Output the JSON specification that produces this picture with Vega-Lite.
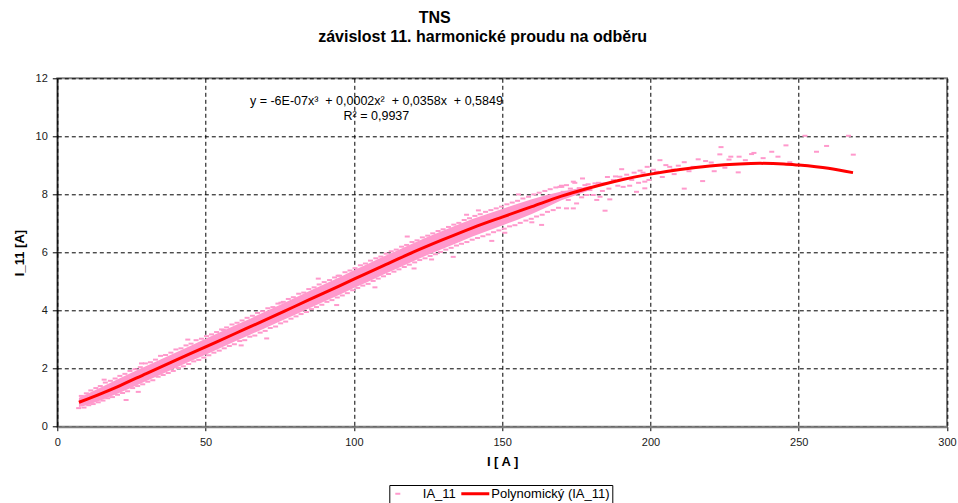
{
  "$schema": "https://vega.github.io/schema/vega-lite/v6.json",
  "width": 889.7,
  "height": 348.4,
  "autosize": {"type": "none"},
  "padding": {"left": 57.3, "top": 78.3, "right": 11, "bottom": 76.3},
  "background": "white",
  "title": {
    "text": "TNS\u2800\u2800\u2800\u2800\u2800\u2800\u2800\u2800",
    "subtitle": "závislost 11. harmonické proudu na odběru",
    "anchor": "middle",
    "frame": "group",
    "dx": -19.5,
    "offset": 27,
    "font": "Liberation Sans",
    "subtitleFont": "Liberation Sans",
    "fontSize": 16,
    "subtitleFontSize": 16,
    "fontWeight": "bold",
    "subtitleFontWeight": "bold",
    "color": "#000",
    "subtitleColor": "#000",
    "subtitlePadding": 3
  },
  "config": {
    "font": "Liberation Sans",
    "view": {"stroke": "#808080", "strokeWidth": 2},
    "axis": {
      "grid": true, "gridColor": "#000", "gridDash": [4, 3], "gridOpacity": 1, "gridWidth": 1,
      "labelFont": "Liberation Sans", "labelFontSize": 11, "labelColor": "#1a1a1a",
      "tickColor": "#000", "titleFont": "Liberation Sans", "titleFontSize": 13,
      "titleFontWeight": "bold", "titleColor": "#000", "labelFlush": false, "labelOverlap": false
    },
    "axisX": {"domainColor": "#808080", "domainWidth": 2, "tickSize": 4, "labelPadding": 6, "titlePadding": 8},
    "axisY": {"domainColor": "#000", "domainWidth": 1, "tickSize": 5, "labelPadding": 5, "titlePadding": 9},
    "legend": {
      "orient": "none", "legendX": 332, "legendY": 406.7, "direction": "horizontal", "columns": 2,
      "strokeColor": "#000", "fillColor": "#fff", "padding": 2,
      "symbolSize": 100, "symbolStrokeWidth": 0, "labelFontSize": 13, "labelFont": "Liberation Sans", "labelColor": "#000",
      "labelOffset": 18.5, "columnPadding": 3.5
    }
  },
  "datasets": {
    "band": [
      {"I": 7.3, "lo": 0.68, "hi": 1.0}, {"I": 10, "lo": 0.74, "hi": 1.13}, {"I": 15, "lo": 0.92, "hi": 1.37},
      {"I": 20, "lo": 1.13, "hi": 1.62}, {"I": 25, "lo": 1.34, "hi": 1.86}, {"I": 30, "lo": 1.57, "hi": 2.09},
      {"I": 35, "lo": 1.8, "hi": 2.32}, {"I": 40, "lo": 2.03, "hi": 2.56}, {"I": 45, "lo": 2.26, "hi": 2.79},
      {"I": 50, "lo": 2.48, "hi": 3.03}, {"I": 55, "lo": 2.71, "hi": 3.26}, {"I": 60, "lo": 2.94, "hi": 3.49},
      {"I": 65, "lo": 3.17, "hi": 3.72}, {"I": 70, "lo": 3.39, "hi": 3.96}, {"I": 75, "lo": 3.62, "hi": 4.19},
      {"I": 80, "lo": 3.85, "hi": 4.43}, {"I": 85, "lo": 4.08, "hi": 4.67}, {"I": 90, "lo": 4.31, "hi": 4.91},
      {"I": 95, "lo": 4.54, "hi": 5.14}, {"I": 100, "lo": 4.78, "hi": 5.39}, {"I": 105, "lo": 5.0, "hi": 5.62},
      {"I": 110, "lo": 5.24, "hi": 5.86}, {"I": 115, "lo": 5.47, "hi": 6.09}, {"I": 120, "lo": 5.7, "hi": 6.32},
      {"I": 125, "lo": 5.92, "hi": 6.54}, {"I": 130, "lo": 6.13, "hi": 6.75}, {"I": 135, "lo": 6.34, "hi": 6.96},
      {"I": 140, "lo": 6.55, "hi": 7.15}, {"I": 145, "lo": 6.74, "hi": 7.33}, {"I": 150, "lo": 6.93, "hi": 7.5},
      {"I": 155, "lo": 7.12, "hi": 7.67}, {"I": 160, "lo": 7.33, "hi": 7.83}, {"I": 165, "lo": 7.56, "hi": 7.98},
      {"I": 170, "lo": 7.8, "hi": 8.1}, {"I": 175, "lo": 7.98, "hi": 8.2}, {"I": 180, "lo": 8.16, "hi": 8.3}
    ],
    "pts": [
      {"I": 7.2, "I11": 0.64}, {"I": 8.1, "I11": 1.06}, {"I": 9.0, "I11": 0.66}, {"I": 9.8, "I11": 1.15},
      {"I": 10.6, "I11": 0.74}, {"I": 11.3, "I11": 1.25}, {"I": 12.1, "I11": 0.78}, {"I": 13.0, "I11": 1.33},
      {"I": 13.8, "I11": 0.84}, {"I": 14.5, "I11": 1.4}, {"I": 15.4, "I11": 0.9}, {"I": 16.2, "I11": 1.52},
      {"I": 17.0, "I11": 0.98}, {"I": 17.9, "I11": 1.58}, {"I": 18.6, "I11": 1.02}, {"I": 19.5, "I11": 1.66},
      {"I": 20.3, "I11": 1.1}, {"I": 21.1, "I11": 1.75}, {"I": 22.0, "I11": 1.16}, {"I": 22.8, "I11": 1.82},
      {"I": 23.7, "I11": 1.22}, {"I": 24.5, "I11": 1.92}, {"I": 25.4, "I11": 1.33}, {"I": 26.2, "I11": 1.98},
      {"I": 27.1, "I11": 1.4}, {"I": 28.0, "I11": 2.05}, {"I": 28.8, "I11": 1.46}, {"I": 29.7, "I11": 2.18},
      {"I": 30.5, "I11": 1.55}, {"I": 31.4, "I11": 2.22}, {"I": 32.2, "I11": 1.6}, {"I": 33.1, "I11": 2.31},
      {"I": 34.0, "I11": 1.72}, {"I": 34.8, "I11": 2.44}, {"I": 35.7, "I11": 1.78}, {"I": 36.5, "I11": 2.47},
      {"I": 37.4, "I11": 1.85}, {"I": 38.3, "I11": 2.55}, {"I": 39.1, "I11": 1.92}, {"I": 40.0, "I11": 2.66},
      {"I": 40.8, "I11": 2.02}, {"I": 41.7, "I11": 2.7}, {"I": 42.5, "I11": 2.08}, {"I": 43.4, "I11": 2.8},
      {"I": 44.3, "I11": 2.16}, {"I": 45.1, "I11": 2.86}, {"I": 46.0, "I11": 2.25}, {"I": 46.8, "I11": 2.98},
      {"I": 47.7, "I11": 2.3}, {"I": 48.6, "I11": 3.03}, {"I": 49.4, "I11": 2.38}, {"I": 50.3, "I11": 3.12},
      {"I": 51.1, "I11": 2.46}, {"I": 52.0, "I11": 3.18}, {"I": 52.8, "I11": 2.55}, {"I": 53.7, "I11": 3.26},
      {"I": 54.6, "I11": 2.62}, {"I": 55.4, "I11": 3.35}, {"I": 56.3, "I11": 2.7}, {"I": 57.1, "I11": 3.42},
      {"I": 58.0, "I11": 2.78}, {"I": 58.9, "I11": 3.52}, {"I": 59.7, "I11": 2.84}, {"I": 60.6, "I11": 3.58},
      {"I": 61.5, "I11": 2.95}, {"I": 62.3, "I11": 3.66}, {"I": 63.2, "I11": 2.98}, {"I": 64.0, "I11": 3.75},
      {"I": 64.9, "I11": 3.1}, {"I": 65.8, "I11": 3.82}, {"I": 66.6, "I11": 3.14}, {"I": 67.5, "I11": 3.92},
      {"I": 68.4, "I11": 3.24}, {"I": 69.2, "I11": 3.98}, {"I": 70.1, "I11": 3.3}, {"I": 71.0, "I11": 4.08},
      {"I": 71.8, "I11": 3.4}, {"I": 72.7, "I11": 4.12}, {"I": 73.6, "I11": 3.45}, {"I": 74.4, "I11": 4.24},
      {"I": 75.3, "I11": 3.56}, {"I": 76.2, "I11": 4.3}, {"I": 77.0, "I11": 3.62}, {"I": 77.9, "I11": 4.4},
      {"I": 78.8, "I11": 3.72}, {"I": 79.6, "I11": 4.46}, {"I": 80.5, "I11": 3.8}, {"I": 81.4, "I11": 4.58},
      {"I": 82.2, "I11": 3.88}, {"I": 83.1, "I11": 4.62}, {"I": 84.0, "I11": 3.95}, {"I": 84.8, "I11": 4.74},
      {"I": 85.7, "I11": 4.05}, {"I": 86.6, "I11": 4.8}, {"I": 87.4, "I11": 4.12}, {"I": 88.3, "I11": 4.9},
      {"I": 89.2, "I11": 4.2}, {"I": 90.0, "I11": 4.98}, {"I": 90.9, "I11": 4.3}, {"I": 91.8, "I11": 5.05},
      {"I": 92.6, "I11": 4.36}, {"I": 93.5, "I11": 5.14}, {"I": 94.4, "I11": 4.45}, {"I": 95.2, "I11": 5.2},
      {"I": 96.1, "I11": 4.52}, {"I": 97.0, "I11": 5.32}, {"I": 97.8, "I11": 4.6}, {"I": 98.7, "I11": 5.38},
      {"I": 99.6, "I11": 4.7}, {"I": 100.4, "I11": 5.46}, {"I": 101.3, "I11": 4.78}, {"I": 102.2, "I11": 5.56},
      {"I": 103.0, "I11": 4.86}, {"I": 103.9, "I11": 5.62}, {"I": 104.8, "I11": 4.92}, {"I": 105.6, "I11": 5.72},
      {"I": 106.5, "I11": 5.02}, {"I": 107.4, "I11": 5.8}, {"I": 108.2, "I11": 5.1}, {"I": 109.1, "I11": 5.86},
      {"I": 110.0, "I11": 5.18}, {"I": 110.9, "I11": 5.96}, {"I": 111.7, "I11": 5.26}, {"I": 112.6, "I11": 6.04},
      {"I": 113.5, "I11": 5.34}, {"I": 114.3, "I11": 6.1}, {"I": 115.2, "I11": 5.42}, {"I": 116.1, "I11": 6.2},
      {"I": 117.0, "I11": 5.5}, {"I": 117.8, "I11": 6.26}, {"I": 118.7, "I11": 5.58}, {"I": 119.6, "I11": 6.36},
      {"I": 120.5, "I11": 5.66}, {"I": 121.3, "I11": 6.42}, {"I": 122.2, "I11": 5.74}, {"I": 123.1, "I11": 6.52},
      {"I": 124.0, "I11": 5.8}, {"I": 124.9, "I11": 6.58}, {"I": 125.7, "I11": 5.88}, {"I": 126.6, "I11": 6.66},
      {"I": 127.5, "I11": 5.94}, {"I": 128.4, "I11": 6.74}, {"I": 129.2, "I11": 6.02}, {"I": 130.1, "I11": 6.8},
      {"I": 131.0, "I11": 6.1}, {"I": 131.9, "I11": 6.88}, {"I": 132.8, "I11": 6.16}, {"I": 133.7, "I11": 6.96},
      {"I": 134.6, "I11": 6.24}, {"I": 135.4, "I11": 7.02}, {"I": 136.3, "I11": 6.3}, {"I": 137.2, "I11": 7.12},
      {"I": 138.1, "I11": 6.36}, {"I": 139.0, "I11": 7.18}, {"I": 139.9, "I11": 6.44}, {"I": 140.8, "I11": 7.26},
      {"I": 141.7, "I11": 6.5}, {"I": 142.6, "I11": 7.32}, {"I": 143.5, "I11": 6.56}, {"I": 144.4, "I11": 7.4},
      {"I": 145.3, "I11": 6.62}, {"I": 146.2, "I11": 7.46}, {"I": 147.1, "I11": 6.7}, {"I": 148.0, "I11": 7.52},
      {"I": 148.9, "I11": 6.76}, {"I": 149.8, "I11": 7.58}, {"I": 150.7, "I11": 6.82}, {"I": 151.6, "I11": 7.66},
      {"I": 152.5, "I11": 6.9}, {"I": 153.4, "I11": 7.72}, {"I": 154.3, "I11": 6.94}, {"I": 155.2, "I11": 7.78},
      {"I": 156.1, "I11": 7.02}, {"I": 157.0, "I11": 7.86}, {"I": 158.0, "I11": 7.1}, {"I": 158.9, "I11": 7.92},
      {"I": 159.8, "I11": 7.16}, {"I": 160.7, "I11": 8.0}, {"I": 161.6, "I11": 7.24}, {"I": 162.5, "I11": 8.06},
      {"I": 163.5, "I11": 7.3}, {"I": 164.4, "I11": 8.12}, {"I": 165.3, "I11": 7.4}, {"I": 166.2, "I11": 8.18},
      {"I": 167.2, "I11": 7.46}, {"I": 168.1, "I11": 8.24}, {"I": 169.0, "I11": 7.54}, {"I": 170.0, "I11": 8.3},
      {"I": 23.2, "I11": 0.92}, {"I": 27.3, "I11": 1.2}, {"I": 28.4, "I11": 2.18}, {"I": 56.0, "I11": 3.33},
      {"I": 70.6, "I11": 3.04}, {"I": 75.4, "I11": 4.27}, {"I": 94.2, "I11": 4.19}, {"I": 94.7, "I11": 5.2},
      {"I": 107.1, "I11": 4.8}, {"I": 126.2, "I11": 5.76}, {"I": 133.5, "I11": 5.85}, {"I": 150.9, "I11": 6.68},
      {"I": 160.0, "I11": 7.04}, {"I": 163.3, "I11": 6.95}, {"I": 169.5, "I11": 8.26}, {"I": 174.5, "I11": 8.4},
      {"I": 15.8, "I11": 1.62}, {"I": 44.0, "I11": 3.0}, {"I": 62.0, "I11": 2.8}, {"I": 88.0, "I11": 5.1},
      {"I": 118.0, "I11": 6.55}, {"I": 138.0, "I11": 7.3}, {"I": 146.5, "I11": 6.4}, {"I": 155.5, "I11": 8.0},
      {"I": 142.0, "I11": 7.45}, {"I": 120.3, "I11": 5.45},
      {"I": 170.1, "I11": 8.26}, {"I": 171.7, "I11": 8.32}, {"I": 174.0, "I11": 8.44}, {"I": 170.6, "I11": 8.09},
      {"I": 172.3, "I11": 7.81}, {"I": 171.7, "I11": 7.52}, {"I": 174.0, "I11": 7.52}, {"I": 175.1, "I11": 7.69},
      {"I": 177.1, "I11": 8.55}, {"I": 177.9, "I11": 8.32}, {"I": 179.6, "I11": 8.15}, {"I": 180.7, "I11": 7.98},
      {"I": 181.9, "I11": 7.81}, {"I": 183.0, "I11": 7.92}, {"I": 184.7, "I11": 7.44}, {"I": 186.3, "I11": 7.83},
      {"I": 181.3, "I11": 8.38}, {"I": 184.1, "I11": 8.38}, {"I": 187.5, "I11": 8.5}, {"I": 190.3, "I11": 8.87},
      {"I": 189.7, "I11": 8.61}, {"I": 191.4, "I11": 8.55}, {"I": 193.7, "I11": 8.5}, {"I": 190.8, "I11": 8.26},
      {"I": 196.5, "I11": 8.82}, {"I": 198.9, "I11": 8.95}, {"I": 198.1, "I11": 8.44}, {"I": 198.1, "I11": 8.21},
      {"I": 195.3, "I11": 8.09}, {"I": 203.2, "I11": 9.18}, {"I": 202.1, "I11": 8.78}, {"I": 205.2, "I11": 9.01},
      {"I": 207.7, "I11": 8.86}, {"I": 209.4, "I11": 8.99}, {"I": 211.4, "I11": 9.11}, {"I": 211.4, "I11": 8.2},
      {"I": 214.4, "I11": 8.95}, {"I": 216.1, "I11": 9.21}, {"I": 218.6, "I11": 9.15}, {"I": 217.6, "I11": 8.46},
      {"I": 223.4, "I11": 9.38}, {"I": 223.8, "I11": 9.63}, {"I": 225.1, "I11": 8.92}, {"I": 227.1, "I11": 9.3},
      {"I": 229.9, "I11": 9.3}, {"I": 229.6, "I11": 8.76}, {"I": 234.1, "I11": 9.39}, {"I": 234.9, "I11": 9.43},
      {"I": 240.9, "I11": 9.47}, {"I": 245.7, "I11": 9.69}, {"I": 247.0, "I11": 9.11}, {"I": 252.1, "I11": 10.02},
      {"I": 256.0, "I11": 9.47}, {"I": 259.4, "I11": 9.67}, {"I": 266.8, "I11": 10.02}, {"I": 268.4, "I11": 9.37},
      {"I": 176.0, "I11": 8.22}, {"I": 178.5, "I11": 7.98}, {"I": 182.5, "I11": 8.4}, {"I": 183.8, "I11": 8.12},
      {"I": 186.0, "I11": 8.2}, {"I": 188.2, "I11": 8.62}, {"I": 189.0, "I11": 8.3}, {"I": 192.0, "I11": 8.68},
      {"I": 193.0, "I11": 8.3}, {"I": 194.5, "I11": 8.75}, {"I": 196.0, "I11": 8.4}, {"I": 197.5, "I11": 8.75},
      {"I": 199.5, "I11": 8.5}, {"I": 201.0, "I11": 8.85}, {"I": 204.0, "I11": 8.6}, {"I": 206.5, "I11": 8.95},
      {"I": 208.0, "I11": 8.7}, {"I": 213.0, "I11": 8.8}, {"I": 220.5, "I11": 9.1}, {"I": 221.5, "I11": 8.8},
      {"I": 226.5, "I11": 9.2}, {"I": 232.0, "I11": 9.18}, {"I": 238.0, "I11": 9.25}, {"I": 243.0, "I11": 9.3},
      {"I": 173.0, "I11": 8.2}, {"I": 176.8, "I11": 7.9}, {"I": 179.0, "I11": 8.35}, {"I": 185.5, "I11": 8.6}
    ],
    "fit": [
      {"I": 7.3, "I11": 0.84}, {"I": 15, "I11": 1.15}, {"I": 21, "I11": 1.41}, {"I": 30, "I11": 1.83},
      {"I": 40, "I11": 2.29}, {"I": 50, "I11": 2.75}, {"I": 60, "I11": 3.21}, {"I": 70, "I11": 3.67},
      {"I": 80, "I11": 4.14}, {"I": 90, "I11": 4.61}, {"I": 100, "I11": 5.08}, {"I": 110, "I11": 5.55},
      {"I": 120, "I11": 6.01}, {"I": 130, "I11": 6.44}, {"I": 140, "I11": 6.85}, {"I": 150, "I11": 7.22},
      {"I": 160, "I11": 7.58}, {"I": 170, "I11": 7.94}, {"I": 180, "I11": 8.24}, {"I": 190, "I11": 8.5},
      {"I": 200, "I11": 8.7}, {"I": 210, "I11": 8.86}, {"I": 220, "I11": 8.98}, {"I": 230, "I11": 9.05},
      {"I": 237, "I11": 9.07}, {"I": 245, "I11": 9.05}, {"I": 250, "I11": 9.01}, {"I": 260, "I11": 8.9},
      {"I": 268.3, "I11": 8.75}
    ],
    "eq": [
      {"I": 107.6, "I11": 11.23, "label": "y = -6E-07x³\u00a0 + 0,0002x²\u00a0 + 0,0358x\u00a0 + 0,5849"},
      {"I": 107.6, "I11": 10.7, "label": "R² = 0,9937"}
    ]
  },
  "layer": [
    {
      "data": {"name": "band"},
      "mark": {"type": "area", "color": "#FF99CC", "opacity": 1},
      "encoding": {
        "x": {"field": "I", "type": "quantitative", "title": "I [ A ]",
              "scale": {"domain": [0, 300], "nice": false, "zero": false},
              "axis": {"values": [0, 50, 100, 150, 200, 250, 300]}},
        "y": {"field": "lo", "type": "quantitative", "title": "I_11 [A]",
              "scale": {"domain": [0, 12], "nice": false, "zero": false},
              "axis": {"values": [0, 2, 4, 6, 8, 10, 12]}},
        "y2": {"field": "hi"}
      }
    },
    {
      "data": {"name": "pts"},
      "mark": {"type": "point", "filled": true, "size": 100, "opacity": 1},
      "encoding": {
        "x": {"field": "I", "type": "quantitative", "title": "I [ A ]"},
        "y": {"field": "I11", "type": "quantitative", "title": "I_11 [A]"},
        "color": {
          "datum": "IA_11",
          "type": "nominal",
          "scale": {"domain": ["IA_11", "Polynomický (IA_11)"], "range": ["#FF99CC", "#FF0000"]},
          "legend": {"title": null}
        },
        "shape": {
          "datum": "IA_11",
          "type": "nominal",
          "scale": {"domain": ["IA_11", "Polynomický (IA_11)"], "range": ["M-0.5,-0.2L0.5,-0.2L0.5,0.2L-0.5,0.2Z", "M-1,-0.3L4.6,-0.3L4.6,0.3L-1,0.3Z"]},
          "legend": {"title": null}
        }
      }
    },
    {
      "data": {"name": "fit"},
      "mark": {"type": "line", "strokeWidth": 3, "interpolate": "monotone"},
      "encoding": {
        "x": {"field": "I", "type": "quantitative", "title": "I [ A ]"},
        "y": {"field": "I11", "type": "quantitative", "title": "I_11 [A]"},
        "color": {"datum": "Polynomický (IA_11)", "type": "nominal", "legend": {"title": null}}
      }
    },
    {
      "data": {"name": "eq"},
      "mark": {"type": "text", "fontSize": 12.5, "align": "center", "baseline": "middle", "color": "#000", "font": "Liberation Sans"},
      "encoding": {
        "x": {"field": "I", "type": "quantitative", "title": "I [ A ]"},
        "y": {"field": "I11", "type": "quantitative", "title": "I_11 [A]"},
        "text": {"field": "label"}
      }
    }
  ]
}
